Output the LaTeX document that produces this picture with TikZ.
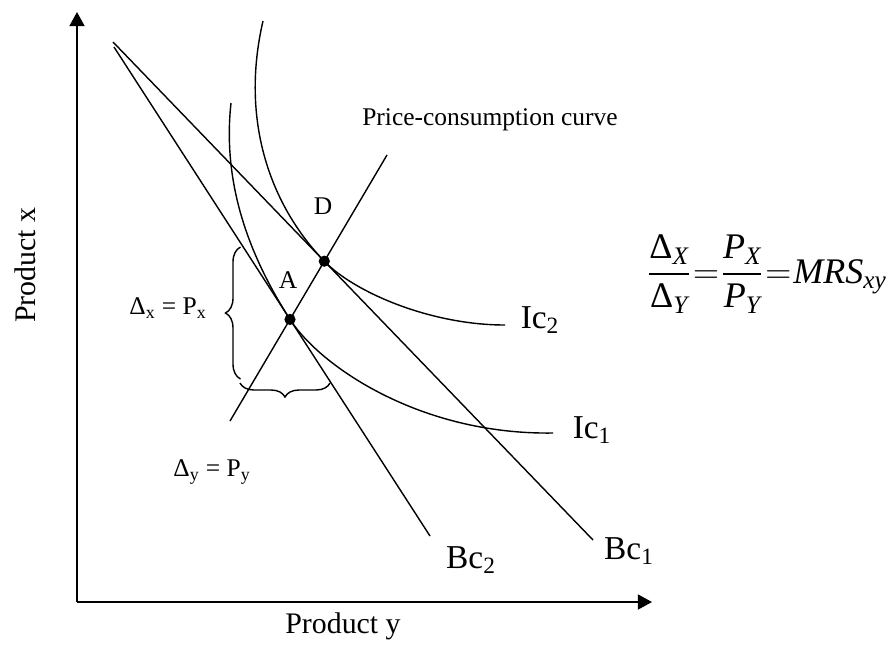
\RequirePackage{fix-cm}
\documentclass[tikz,border=0pt]{standalone}
\usepackage{amsmath}
\usepackage{fontspec}
\setmainfont{Liberation Serif}
\usetikzlibrary{arrows.meta,decorations.pathreplacing}

\begin{document}
\begin{tikzpicture}[x=0.02cm,y=-0.02cm,
  axis/.style={line width=1pt,-{Triangle[length=8pt,width=8.5pt]}},
  curve/.style={line width=0.8pt},
  big/.style={font=\fontsize{19}{22}\selectfont},
  mid/.style={font=\fontsize{17}{20}\selectfont},
  small/.style={font=\fontsize{14.5}{17}\selectfont},
  brc/.style={decorate,line width=0.8pt,decoration={brace,amplitude=#1}}]

\useasboundingbox (0,0) rectangle (889,650);

% axes
\coordinate (O) at (77,602);
\coordinate (ytop) at (77,12);
\coordinate (xend) at (652,602);
\draw[axis] (O) -- (ytop);
\draw[axis] (O) -- (xend);

% budget lines and price-consumption curve
\coordinate (b1s) at (113,42);
\coordinate (b1e) at (593,540);
\coordinate (b2s) at (114,47);
\coordinate (b2e) at (430,536);
\coordinate (pcs) at (230,421);
\coordinate (pce) at (387,155);
\draw[curve] (b1s) -- (b1e);
\draw[curve] (b2s) -- (b2e);
\draw[curve] (pcs) -- (pce);

% tangency points
\coordinate (D) at (324.3,261.2);
\coordinate (A) at (290,319.4);

% indifference curves
\draw[curve] (263,21) .. controls (240,120) and (270,205) .. (D)
  .. controls (354,292) and (430,325) .. (505,325);
\draw[curve] (231,103) .. controls (222,185) and (250,257) .. (A)
  .. controls (320,366) and (420,435) .. (553,433);

\fill (D) circle (3.2pt);
\fill (A) circle (3.2pt);

% braces
\draw[brc=0.3cm] (240.5,379) -- (240.5,247);
\draw[brc=0.28cm] (330,383) -- (240,383);

% labels
\node[small] (pcc) at (490,120) {Price-consumption curve};
\node[small] (Dl) at (323,206) {D};
\node[small] (Al) at (288,280) {A};
\node[small] (dx) at (168,308) {Δ\textsubscript{x} = P\textsubscript{x}};
\node[small] (dy) at (212,472) {Δ\textsubscript{y} = P\textsubscript{y}};
\node[big] (ic2) at (540,320) {Ic\textsubscript{2}};
\node[big] (ic1) at (592,430) {Ic\textsubscript{1}};
\node[big] (bc2) at (471,560) {Bc\textsubscript{2}};
\node[big] (bc1) at (629,551) {Bc\textsubscript{1}};
\node[mid,rotate=90] (px) at (25,265) {Product x};
\node[mid] (py) at (343,626) {Product y};
\node[inner sep=0pt,font=\fontsize{20.5}{24}\selectfont] (mrs) at (767,274)
  {\thickmuskip=1mu$\dfrac{\text{Δ}_{\mathit{X}}}{\text{Δ}_{\mathit{Y}}}=\dfrac{\mathit{P}_{\mathit{X}}}{\mathit{P}_{\mathit{Y}}}=\mathit{MRS}_{\mathit{xy}}$};
\end{tikzpicture}
\end{document}
